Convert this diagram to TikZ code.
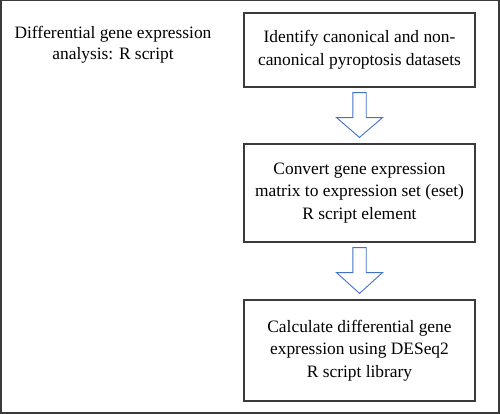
\documentclass[tikz,border=0pt]{standalone}
\usepackage{fontspec}
\setmainfont{Liberation Serif}
\usetikzlibrary{calc}
\definecolor{framegray}{HTML}{3A3A3A}
\definecolor{arrowblue}{HTML}{4472C4}
\tikzset{
  stepbox/.style={draw=framegray, line width=1.2pt, fill=white, align=center,
    minimum width=231pt, inner sep=2pt, font=\fontsize{17.4}{22.5}\selectfont},
  barrow/.style={draw=arrowblue, line width=0.9pt, fill=white, line join=miter},
  titletext/.style={align=center, font=\fontsize{17.4}{20.5}\selectfont}
}
\begin{document}
\begin{tikzpicture}[x=1pt,y=-1pt]
  \useasboundingbox (0,0) rectangle (500,414);
  \draw[framegray, line width=1.4pt] (0.8,0.8) rectangle (499,412.8);
  \node[titletext] (title) at (113,45) {Differential gene expression\\analysis: R script};
  \node[stepbox, minimum height=74pt] (b1) at (359.5,50)
    {Identify canonical and non-\\canonical pyroptosis datasets};
  \node[stepbox, minimum height=98pt] (b2) at (359.5,193)
    {Convert gene expression\\matrix to expression set (eset)\\R script element};
  \node[stepbox, minimum height=101pt] (b3) at (359.5,350.5)
    {Calculate differential gene\\expression using DESeq2\\R script library};
  \foreach \a/\b in {b1/b2, b2/b3}{
    \draw[barrow] ($(\a.south)+(-6.7,5)$) -- ++(13.4,0) -- ++(0,25) -- ++(16.3,0)
      -- ($(\b.north)+(0,-6)$) -- ($(\a.south)+(-23,30)$) -- ++(16.3,0) -- cycle;
  }
\end{tikzpicture}
\end{document}
